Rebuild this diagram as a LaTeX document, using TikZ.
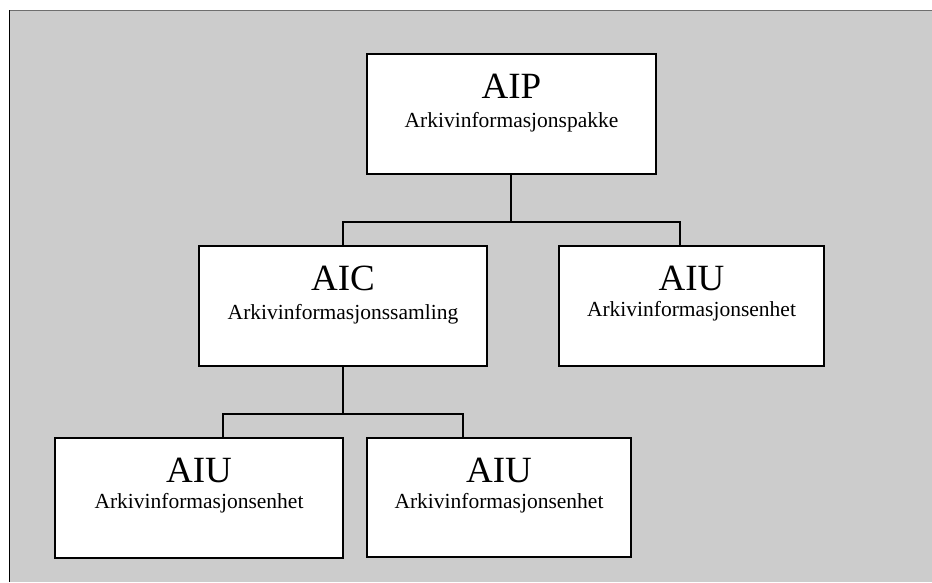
\documentclass[tikz,border=0pt]{standalone}
\usepackage{fontspec}
\setmainfont{Liberation Serif}
\definecolor{bggray}{HTML}{CCCCCC}
\definecolor{edgegray}{HTML}{6E6E6E}
\tikzset{
  box/.style={draw=black, fill=white, line width=1.8pt, inner sep=0pt},
  conn/.style={draw=black, line width=1.8pt},
  bigtext/.style={font=\fontsize{37}{40}\selectfont, anchor=base, inner sep=0pt},
  subtext/.style={font=\fontsize{21.5}{24}\selectfont, anchor=base, inner sep=0pt}
}
\begin{document}
\begin{tikzpicture}[x=1pt, y=-1pt]
\useasboundingbox (0,0) rectangle (932,582);
% background
\fill[bggray] (9,10) rectangle (932,582);
\draw[edgegray, line width=1.8pt] (9,10.5) -- (932,10.5);
\draw[black, line width=1.8pt] (9.5,10) -- (9.5,582);
% boxes
\node[box, minimum width=289pt, minimum height=120pt] (aip) at (511.5,114) {};
\node[box, minimum width=288pt, minimum height=120pt] (aic) at (343,306) {};
\node[box, minimum width=265pt, minimum height=120pt] (aiuA) at (691.5,306) {};
\node[box, minimum width=288pt, minimum height=120pt] (aiuB) at (199,498) {};
\node[box, minimum width=264pt, minimum height=119pt] (aiuC) at (499,497.5) {};
% texts
\node[bigtext] (aipT) at ([yshift=-45pt]aip.north) {AIP};
\node[subtext] (aipS) at ([yshift=-74pt]aip.north) {Arkivinformasjonspakke};
\node[bigtext] (aicT) at ([yshift=-45pt]aic.north) {AIC};
\node[subtext] (aicS) at ([yshift=-74pt]aic.north) {Arkivinformasjonssamling};
\node[bigtext] (aiuAT) at ([yshift=-45pt]aiuA.north) {AIU};
\node[subtext] (aiuAS) at ([yshift=-71pt]aiuA.north) {Arkivinformasjonsenhet};
\node[bigtext] (aiuBT) at ([yshift=-45pt]aiuB.north) {AIU};
\node[subtext] (aiuBS) at ([yshift=-71pt]aiuB.north) {Arkivinformasjonsenhet};
\node[bigtext] (aiuCT) at ([yshift=-45pt]aiuC.north) {AIU};
\node[subtext] (aiuCS) at ([yshift=-71pt]aiuC.north) {Arkivinformasjonsenhet};
% junction coordinates
\coordinate (aipbot) at (511,174);
\coordinate (j1) at (511,222);
\coordinate (aiuAtop) at (680,246);
\coordinate (j2) at (343,414);
\coordinate (aiuBtop) at (222.7,438);
\coordinate (aiuCtop) at (463,438);
% connectors
\draw[conn] (aipbot) -- (j1);
\draw[conn] (aic.north) |- (j1) -| (aiuAtop);
\draw[conn] (aic.south) -- (j2);
\draw[conn] (aiuBtop) |- (j2) -| (aiuCtop);
\end{tikzpicture}
\end{document}
